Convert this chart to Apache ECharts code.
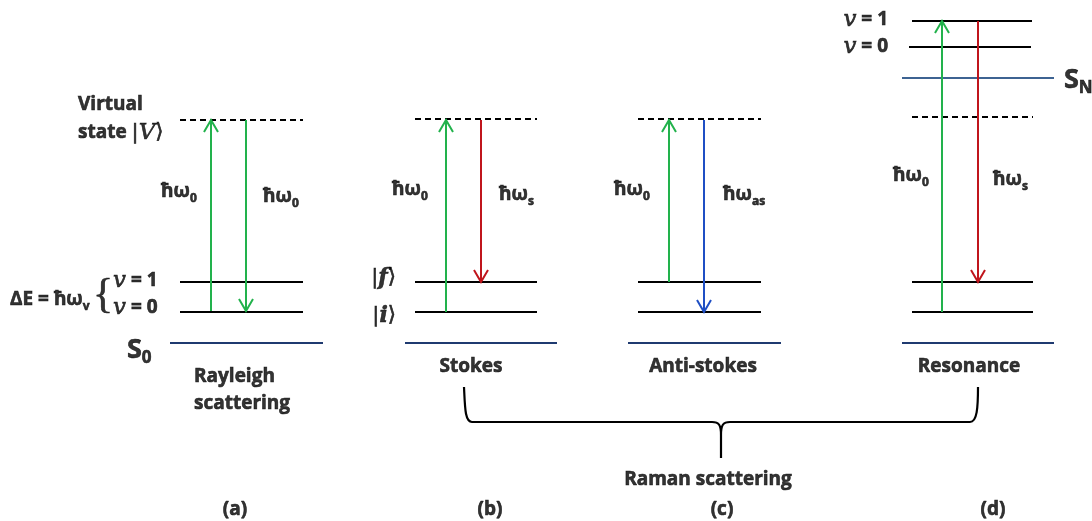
<!DOCTYPE html>
<html>
<head>
<meta charset="utf-8">
<script src="https://cdn.jsdelivr.net/npm/echarts@6/dist/echarts.min.js"></script>
<style>
html, body { margin: 0; padding: 0; background: #ffffff; }
#chart { width: 1092px; height: 521px; }
</style>
</head>
<body>
<div id="chart"></div>
<script>
// Diagram units: x runs left to right, y runs top to bottom (0..1092 x 0..521).

// Ground electronic state S0 in each panel: [xStart, xEnd, y]
const groundLevels = [[170, 323, 343], [405, 557, 343], [628, 781, 343], [902, 1054, 343]];
// Vibrational levels (solid black): [xStart, xEnd, y]
const vibLevels = [
  [180, 303, 282], [180, 303, 312],
  [415, 537, 282], [415, 537, 312],
  [638, 761, 282], [638, 761, 312],
  [912, 1033, 282], [912, 1033, 312],
  [912, 1032, 21], [909, 1031, 47]
];
// Excited electronic state S_N
const excitedLevels = [[902, 1054, 78]];
// Virtual states (dashed)
const virtualLevels = [[180, 303, 120], [415, 537, 119], [638, 761, 119], [912, 1033, 117]];

// Photon transitions: [x, yFrom, yTo]
const laserTransitions = [[211, 311, 120], [246, 120, 311], [446, 312, 120], [669, 282, 120], [942, 312, 21]];
const stokesTransitions = [[481, 120, 282], [978, 21, 282]];
const antiStokesTransitions = [[704, 120, 312]];

// Photon energy labels ħω with subscript: [x, y, subscript]
const photonLabels = [
  [161, 192, '0'], [263, 197, '0'],
  [392, 190, '0'], [499, 195, 's'],
  [614, 190, '0'], [723, 195, 'as'],
  [893, 176, '0'], [993, 180, 's']
];

const processNames = ['Rayleigh\nscattering', 'Stokes', 'Anti-stokes', 'Resonance'];
const processAnchors = [[194, 390], [471, 367], [703, 367], [969, 367]];
const panelTags = ['(a)', '(b)', '(c)', '(d)'];
const panelTagX = [235, 490, 722, 993];
const panelTagY = 510;

// Brace grouping the Raman panels: [xLeft, xRight, yTop, yBar, yTip, xTip]
const ramanBrace = [464, 978, 387, 422, 458, 721];
const ramanTitle = { text: 'Raman scattering', x: 708, y: 480 };

const FONT = '"Open Sans", "Noto Sans", sans-serif';
const MATH = '"DejaVu Serif", "Liberation Serif", serif';
const MAIN_SIZE = 19;
const INK = '#000000';
const HEAVY = { textBorderColor: INK, textBorderWidth: 0.6 };

const COLORS = {
  level: '#000000',
  ground: '#1f3a70',
  excited: '#3d6392',
  laser: '#22b24c',
  stokes: '#c0151c',
  antiStokes: '#1f4fc4'
};

function segmentSeries(data, style) {
  return {
    type: 'custom',
    coordinateSystem: 'cartesian2d',
    silent: true,
    encode: { x: [0, 1], y: 2 },
    data: data,
    renderItem: function (params, api) {
      const a = api.coord([api.value(0), api.value(2)]);
      const b = api.coord([api.value(1), api.value(2)]);
      return {
        type: 'line',
        shape: { x1: a[0], y1: a[1], x2: b[0], y2: b[1] },
        style: Object.assign({ fill: null }, style)
      };
    }
  };
}

function arrowSeries(data, color) {
  return {
    type: 'custom',
    coordinateSystem: 'cartesian2d',
    silent: true,
    encode: { x: 0, y: [1, 2] },
    data: data,
    renderItem: function (params, api) {
      const from = api.coord([api.value(0), api.value(1)]);
      const to = api.coord([api.value(0), api.value(2)]);
      const dir = to[1] > from[1] ? 1 : -1;
      const headLen = 12, headHalf = 7;
      const stroke = { stroke: color, lineWidth: 2, fill: null };
      return {
        type: 'group',
        children: [
          { type: 'line', shape: { x1: from[0], y1: from[1], x2: to[0], y2: to[1] }, style: stroke },
          {
            type: 'polyline',
            shape: { points: [[to[0] - headHalf, to[1] - dir * headLen], [to[0], to[1]], [to[0] + headHalf, to[1] - dir * headLen]] },
            style: stroke
          }
        ]
      };
    }
  };
}

function textPoint(x, y, formatter, opts) {
  return {
    value: [x, y],
    label: Object.assign({
      show: true,
      position: [0, 0],
      formatter: formatter,
      fontFamily: FONT,
      fontWeight: 'bold',
      fontSize: MAIN_SIZE,
      color: INK,
      align: 'left',
      verticalAlign: 'middle'
    }, HEAVY, opts || {})
  };
}

function tok(style) { return Object.assign({ color: INK }, style); }

const richPhoton = {
  m: tok(Object.assign({ fontFamily: FONT, fontWeight: 'bold', fontSize: MAIN_SIZE, lineHeight: 26 }, HEAVY)),
  s: tok(Object.assign({ fontFamily: FONT, fontWeight: 'bold', fontSize: 12, lineHeight: 15, verticalAlign: 'bottom' }, HEAVY))
};
const richMath = {
  v: tok({ fontFamily: MATH, fontStyle: 'italic', fontWeight: 'normal', fontSize: 23 }),
  bv: tok({ fontFamily: MATH, fontStyle: 'italic', fontWeight: 'bold', fontSize: 22 }),
  k: tok({ fontFamily: MATH, fontWeight: 'normal', fontSize: 21 }),
  t: tok(Object.assign({ fontFamily: FONT, fontWeight: 'bold', fontSize: MAIN_SIZE }, HEAVY)),
  m: tok(Object.assign({ fontFamily: FONT, fontWeight: 'bold', fontSize: MAIN_SIZE, lineHeight: 26 }, HEAVY)),
  s: tok(Object.assign({ fontFamily: FONT, fontWeight: 'bold', fontSize: 12, lineHeight: 15, verticalAlign: 'bottom' }, HEAVY)),
  S: tok(Object.assign({ fontFamily: FONT, fontWeight: 'bold', fontSize: 27, lineHeight: 34 }, HEAVY)),
  S2: tok(Object.assign({ fontFamily: FONT, fontWeight: 'bold', fontSize: 17, lineHeight: 18, verticalAlign: 'bottom' }, HEAVY)),
  br: tok({ fontFamily: '"Liberation Serif", serif', fontWeight: 'normal', fontSize: 42, lineHeight: 42 })
};

const texts = [];
photonLabels.forEach(function (p) {
  texts.push(textPoint(p[0], p[1], '{m|ħω}{s|' + p[2] + '}', { rich: richPhoton }));
});
processNames.forEach(function (name, i) {
  const multi = name.indexOf('\n') >= 0;
  texts.push(textPoint(processAnchors[i][0], processAnchors[i][1], name, {
    align: multi ? 'left' : 'center',
    lineHeight: 27
  }));
});
panelTags.forEach(function (tag, i) {
  texts.push(textPoint(panelTagX[i], panelTagY, tag, { align: 'center' }));
});
texts.push(textPoint(ramanTitle.x, ramanTitle.y, ramanTitle.text, { align: 'center' }));
// Rayleigh panel annotations
texts.push(textPoint(78, 105, 'Virtual'));
texts.push(textPoint(78, 133, '{t|state }{k||}{v|V}{k|⟩}', { rich: richMath }));
texts.push(textPoint(10, 300, '{t|ΔE = }{m|ħω}{s|v}', { rich: richMath }));
texts.push(textPoint(93, 296, '{br|{}', { rich: richMath }));
texts.push(textPoint(113, 281, '{v|v}{t| = 1}', { rich: richMath }));
texts.push(textPoint(113, 308, '{v|v}{t| = 0}', { rich: richMath }));
texts.push(textPoint(127, 350, '{S|S}{S2|0}', { rich: richMath }));
// Stokes panel state labels
texts.push(textPoint(396, 278, '{k||}{bv|f}{k|⟩}', { rich: richMath, align: 'right' }));
texts.push(textPoint(396, 316, '{k||}{bv|i}{k|⟩}', { rich: richMath, align: 'right' }));
// Resonance panel annotations
texts.push(textPoint(888, 20, '{v|v}{t| = 1}', { rich: richMath, align: 'right' }));
texts.push(textPoint(888, 47, '{v|v}{t| = 0}', { rich: richMath, align: 'right' }));
texts.push(textPoint(1064, 80, '{S|S}{S2|N}', { rich: richMath }));

const braceSeries = {
  type: 'custom',
  coordinateSystem: 'cartesian2d',
  silent: true,
  data: [ramanBrace],
  encode: { x: [0, 1, 5], y: [2, 3, 4] },
  renderItem: function (params, api) {
    const xl = api.value(0), xr = api.value(1), yt = api.value(2), yb = api.value(3), ytip = api.value(4), xm = api.value(5);
    const P = function (x, y) { const c = api.coord([x, y]); return c[0].toFixed(1) + ' ' + c[1].toFixed(1); };
    const d = [
      'M', P(xl, yt),
      'C', P(xl + 1, yb - 14) + ',', P(xl + 1, yb) + ',', P(xl + 8, yb),
      'L', P(xm - 9, yb),
      'C', P(xm - 2, yb) + ',', P(xm, yb + 3) + ',', P(xm, yb + 13),
      'L', P(xm, ytip),
      'M', P(xm, yb + 13),
      'C', P(xm, yb + 3) + ',', P(xm + 2, yb) + ',', P(xm + 9, yb),
      'L', P(xr - 8, yb),
      'C', P(xr - 1, yb) + ',', P(xr, yb - 14) + ',', P(xr, yt)
    ].join(' ');
    return {
      type: 'path',
      shape: { pathData: d },
      style: { stroke: '#000', lineWidth: 2.2, fill: null }
    };
  }
};

const chart = echarts.init(document.getElementById('chart'), null, { renderer: 'canvas' });
chart.setOption({
  backgroundColor: '#ffffff',
  animation: false,
  grid: { left: 0, right: 0, top: 0, bottom: 0 },
  xAxis: { type: 'value', min: 0, max: 1092, show: false },
  yAxis: { type: 'value', min: 0, max: 521, inverse: true, show: false },
  series: [
    segmentSeries(groundLevels, { stroke: COLORS.ground, lineWidth: 2 }),
    segmentSeries(excitedLevels, { stroke: COLORS.excited, lineWidth: 2 }),
    segmentSeries(vibLevels, { stroke: COLORS.level, lineWidth: 2 }),
    segmentSeries(virtualLevels, { stroke: COLORS.level, lineWidth: 2, lineDash: [6, 4] }),
    arrowSeries(laserTransitions, COLORS.laser),
    arrowSeries(stokesTransitions, COLORS.stokes),
    arrowSeries(antiStokesTransitions, COLORS.antiStokes),
    braceSeries,
    {
      type: 'scatter',
      silent: true,
      symbolSize: 0,
      data: texts
    }
  ]
});
</script>
</body>
</html>
